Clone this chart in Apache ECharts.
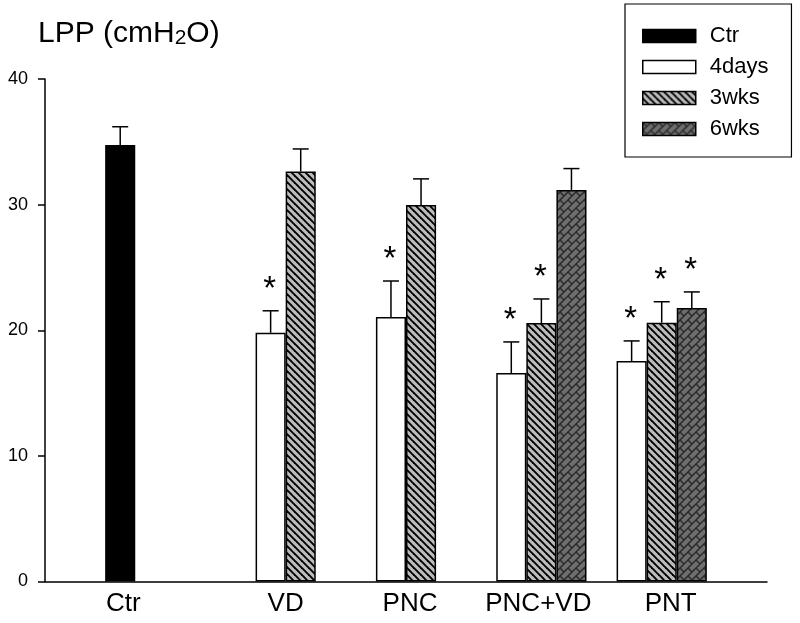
<!DOCTYPE html>
<html>
<head>
<meta charset="utf-8">
<script src="https://cdn.jsdelivr.net/npm/echarts@6/dist/echarts.min.js"></script>
<style>html,body{margin:0;padding:0;background:#fff}#main{width:800px;height:623px}</style>
</head>
<body>
<div id="main"></div>
<script>
// ---- data ----
const categories = ['', 'Ctr', 'VD', 'PNC', 'PNC+VD', 'PNT', ''];
const seriesNames = ['Ctr', '4days', '3wks', '6wks'];
const yTicks = [0, 10, 20, 30, 40];

const ctrMean  = [null, 34.75, null, null, null, null, null];
const ctrErr   = [null, 1.45, null, null, null, null, null];
const ctrStar  = [0, 0, 0, 0, 0, 0, 0];

const days4Mean = [null, null, 19.8, 21.05, 16.6, 17.55, null];
const days4Err  = [null, null, 1.75, 2.87, 2.47, 1.6, null];
const days4Star = [0, 0, 1, 1, 1, 1, 0];

const wks3Mean = [null, null, 32.63, 29.98, 20.58, 20.6, null];
const wks3Err  = [null, null, 1.8, 2.07, 1.91, 1.67, null];
const wks3Star = [0, 0, 0, 0, 1, 1, 0];

const wks6Mean = [null, null, null, null, 31.17, 21.78, null];
const wks6Err  = [null, null, null, null, 1.7, 1.27, null];
const wks6Star = [0, 0, 0, 0, 0, 1, 0];

// ---- patterns ----
function hatchPattern() {
  const s = 7, c = document.createElement('canvas');
  c.width = s; c.height = s;
  const g = c.getContext('2d');
  g.fillStyle = '#bcbcbc'; g.fillRect(0, 0, s, s);
  g.strokeStyle = '#000'; g.lineWidth = 1.9;
  for (let o = -s; o <= s; o += s) {
    g.beginPath(); g.moveTo(o - 1, -1); g.lineTo(o + s + 1, s + 1); g.stroke();
  }
  return c;
}
function brickPattern() {
  const T = 32, d = 8, e = 16, c = document.createElement('canvas');
  c.width = T; c.height = T;
  const g = c.getContext('2d');
  g.fillStyle = '#6e6e6e'; g.fillRect(0, 0, T, T);
  g.strokeStyle = '#2a2a2a'; g.lineWidth = 1.5;
  for (let n = -2; n <= 10; n++) {
    const cc = n * d;
    g.beginPath(); g.moveTo(cc + 10, -10); g.lineTo(cc - 45, 45); g.stroke();
  }
  for (let n = -2; n <= 10; n++) {
    const c0 = n * d, c1 = (n + 1) * d;
    for (let m = -6; m <= 6; m++) {
      const k = m * e + (((n % 2) + 2) % 2 ? e / 2 : 0);
      g.beginPath();
      g.moveTo((c0 + k) / 2, (c0 - k) / 2);
      g.lineTo((c1 + k) / 2, (c1 - k) / 2);
      g.stroke();
    }
  }
  return c;
}

const colors = [
  '#000000',
  '#ffffff',
  { image: hatchPattern(), repeat: 'repeat' },
  { image: brickPattern(), repeat: 'repeat' }
];
const means = [ctrMean, days4Mean, wks3Mean, wks6Mean];
const errs = [ctrErr, days4Err, wks3Err, wks6Err];
const stars = [ctrStar, days4Star, wks3Star, wks6Star];

const FONT = "'Liberation Sans', Arial, sans-serif";

const series = [];
seriesNames.forEach((name, i) => {
  series.push({
    name: name,
    type: 'bar',
    barGap: '0%',
    barCategoryGap: '0%',
    data: means[i].map(v => v === null ? '-' : v),
    itemStyle: { color: colors[i], borderColor: '#000', borderWidth: 1.5 },
    emphasis: { disabled: true },
    z: 2
  });
});
seriesNames.forEach((name, i) => {
  const data = [];
  means[i].forEach((v, k) => { if (v !== null) data.push([k, v, errs[i][k], stars[i][k]]); });
  series.push({
    type: 'custom',
    name: name + '_err',
    data: data,
    encode: { x: 0, y: 1 },
    z: 3,
    silent: true,
    renderItem: function (params, api) {
      const x = api.value(0), v = api.value(1), e = api.value(2), st = api.value(3);
      const base = api.coord([x, v]);
      const top = api.coord([x, v + e]);
      const bw = api.size([1, 0])[0];
      const cx = base[0] + (i - 1.5) * bw / 4;
      const style = { stroke: '#000', lineWidth: 1.5 };
      const children = [
        { type: 'line', shape: { x1: cx, y1: base[1], x2: cx, y2: top[1] }, style: style },
        { type: 'line', shape: { x1: cx - 8, y1: top[1], x2: cx + 8, y2: top[1] }, style: style }
      ];
      if (st) {
        children.push({
          type: 'text',
          style: { text: '*', x: cx - 1, y: top[1] - 21, align: 'center', verticalAlign: 'middle',
                   font: '33px ' + FONT, fill: '#000' }
        });
      }
      return { type: 'group', children: children };
    }
  });
});

const labelShift = { 'Ctr': [0, 84], 'VD': [0, 0], 'PNC': [8, 0], 'PNC+VD': [24, 0], 'PNT': [48, 0] };
const rich = {};
Object.keys(labelShift).forEach((k, idx) => {
  rich['l' + idx] = { fontSize: 26, fontFamily: FONT, color: '#000', lineHeight: 26,
                      padding: [0, labelShift[k][1], 0, labelShift[k][0]] };
});

const chart = echarts.init(document.getElementById('main'), null, { renderer: 'canvas' });
chart.setOption({
  animation: false,
  backgroundColor: '#fff',
  title: {
    text: '{a|LPP (cmH}{s|2}{a|O)}',
    left: 38, top: 19, padding: 0,
    textStyle: {
      fontWeight: 'normal',
      rich: {
        a: { fontSize: 30, fontFamily: FONT, fontWeight: 'normal', color: '#000', lineHeight: 30 },
        s: { fontSize: 21, fontFamily: FONT, fontWeight: 'normal', color: '#000', lineHeight: 30, verticalAlign: 'bottom' }
      }
    }
  },
  legend: {
    data: seriesNames,
    orient: 'vertical',
    left: 625, top: 4,
    padding: [21, 23, 17, 17],
    borderColor: '#000', borderWidth: 1.2,
    itemWidth: 53, itemHeight: 13, itemGap: 9,
    icon: 'rect',
    selectedMode: false,
    itemStyle: { borderColor: '#000', borderWidth: 1.5 },
    textStyle: { fontSize: 22, fontFamily: FONT, color: '#000', lineHeight: 22, padding: [0, 0, 0, 9] }
  },
  grid: { left: 45, right: 33, top: 79, bottom: 41.5, containLabel: false },
  xAxis: {
    type: 'category',
    data: categories,
    boundaryGap: false,
    axisLine: { lineStyle: { color: '#000', width: 1.5 } },
    axisTick: { show: false },
    splitLine: { show: false },
    axisLabel: {
      interval: 0, margin: 9,
      formatter: function (val) {
        const keys = Object.keys(labelShift);
        const idx = keys.indexOf(val);
        return idx < 0 ? '' : '{l' + idx + '|' + val + '}';
      },
      rich: rich
    }
  },
  yAxis: {
    type: 'value',
    min: yTicks[0], max: yTicks[yTicks.length - 1], interval: 10,
    axisLine: { show: true, lineStyle: { color: '#000', width: 1.5 } },
    axisTick: { show: true, length: 7, lineStyle: { color: '#000', width: 1.5 } },
    splitLine: { show: false },
    axisLabel: { fontSize: 18, fontFamily: FONT, color: '#000', margin: 17 }
  },
  series: series
});
</script>
</body>
</html>
